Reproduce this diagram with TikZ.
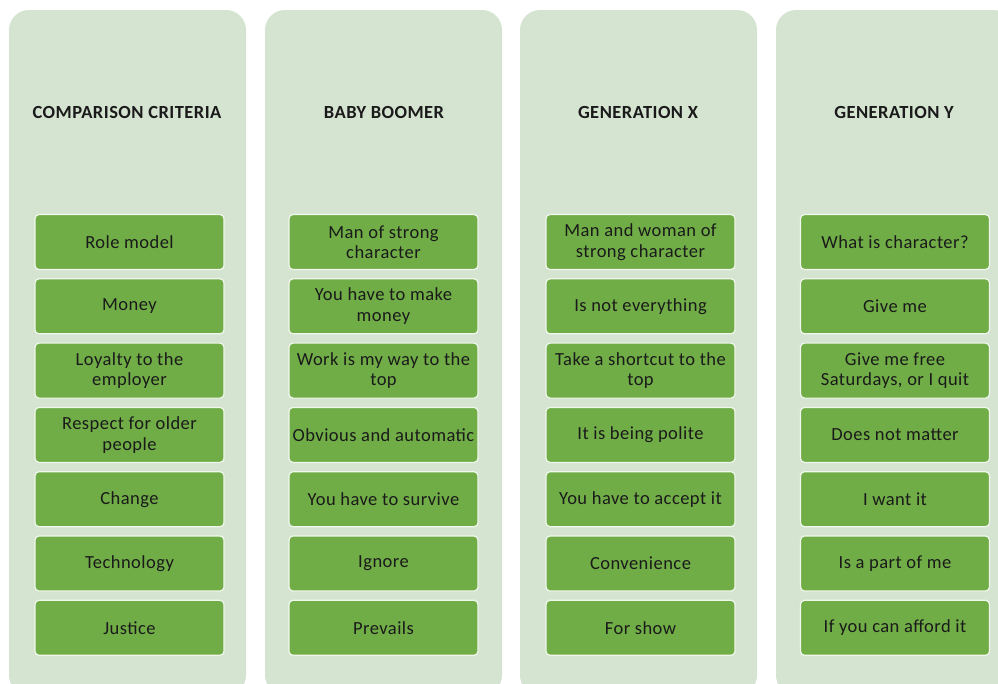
\documentclass[tikz,border=0pt]{standalone}
\usepackage{fontspec}
\setmainfont{Carlito}[LetterSpace=2.5]
\definecolor{panelc}{HTML}{D5E4D1}
\definecolor{boxc}{HTML}{70AD47}
\definecolor{txtc}{HTML}{1A1A1A}
\begin{document}
\begin{tikzpicture}[x=1pt,y=-1pt,
  cell/.style={fill=boxc, draw=white!90!boxc, line width=1.2pt, rounded corners=4pt,
    minimum width=189pt, minimum height=55pt, inner sep=0pt, align=center,
    text=txtc, font=\fontsize{18.5}{20.5}\selectfont},
  head/.style={text=txtc, font=\fontsize{18.5}{20.5}\selectfont\bfseries, inner sep=0pt}]
\useasboundingbox (0,0) rectangle (998,683);
\clip (0,0) rectangle (998,683);
\fill[white] (0,0) rectangle (998,683);
\foreach \i/\px in {0/9,1/265,2/520,3/776}{
  \fill[panelc, rounded corners=20pt] (\px,10) rectangle ++(237,685);
}
\node[head] (h0) at (127,112) {COMPARISON CRITERIA};
\node[head] (h1) at (384,112) {BABY BOOMER};
\node[head] (h2) at (638,112) {GENERATION X};
\node[head] (h3) at (894,112) {GENERATION Y};
\foreach \j/\t in {0/Role model,1/Money,2/{Loyalty to the\\employer},3/{Respect for older\\people},4/Change,5/Technology,6/Justice}{
  \node[cell] (a\j) at (129.5,242+64.3*\j) {\t};
}
\foreach \j/\t in {0/{Man of strong\\character},1/{You have to make\\money},2/{Work is my way to the\\top},3/Obvious and automatic,4/You have to survive,5/Ignore,6/Prevails}{
  \node[cell] (b\j) at (383.5,242+64.3*\j) {\t};
}
\foreach \j/\t in {0/{Man and woman of\\strong character},1/Is not everything,2/{Take a shortcut to the\\top},3/It is being polite,4/You have to accept it,5/Convenience,6/For show}{
  \node[cell] (c\j) at (640.5,242+64.3*\j) {\t};
}
\foreach \j/\t in {0/What is character?,1/Give me,2/{Give me free\\Saturdays, or I quit},3/Does not matter,4/I want it,5/Is a part of me,6/If you can afford it}{
  \node[cell] (d\j) at (895,242+64.3*\j) {\t};
}
\end{tikzpicture}
\end{document}
